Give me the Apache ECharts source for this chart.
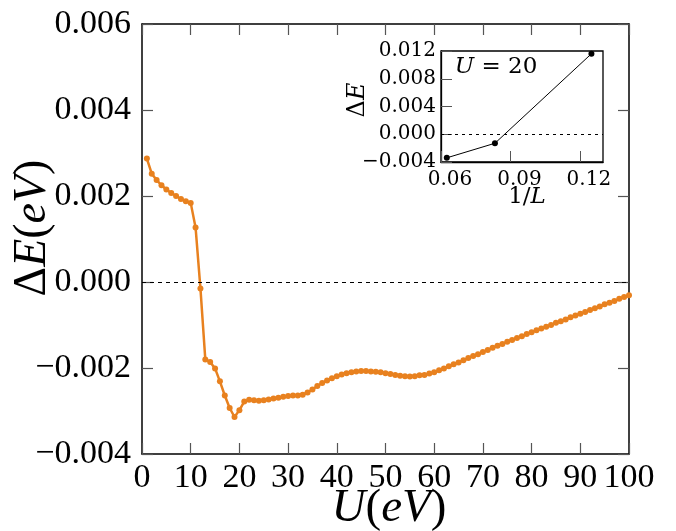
<!DOCTYPE html>
<html><head><meta charset="utf-8">
<script src="https://cdn.jsdelivr.net/npm/echarts@6/dist/echarts.min.js"></script>
<style>html,body{margin:0;padding:0;background:#fff}#c{width:676px;height:531px}</style>
</head><body><div id="c"></div>
<script>
// Main panel: U (eV) vs Delta E (eV)
const U = [1,2,3,4,5,6,7,8,9,10,11,12,13,14,15,16,17,18,19,20,
  21,22,23,24,25,26,27,28,29,30,31,32,33,34,35,36,37,38,39,40,
  41,42,43,44,45,46,47,48,49,50,51,52,53,54,55,56,57,58,59,60,
  61,62,63,64,65,66,67,68,69,70,71,72,73,74,75,76,77,78,79,80,
  81,82,83,84,85,86,87,88,89,90,91,92,93,94,95,96,97,98,99,100];
const deltaE = [
  0.00287,0.00252,0.00237,0.00225,0.00215,0.00207,0.00200,0.00193,0.00188,0.00184,
  0.00127,-0.00015,-0.00180,-0.00186,-0.00201,-0.00231,-0.00264,-0.00293,-0.00314,-0.00298,
  -0.00278,-0.00274,-0.00275,-0.00276,-0.00275,-0.00273,-0.00271,-0.00269,-0.00267,-0.00265,
  -0.00264,-0.00264,-0.00262,-0.00257,-0.00250,-0.00242,-0.00235,-0.00229,-0.00224,-0.00219,
  -0.00215,-0.00212,-0.00210,-0.00208,-0.00207,-0.00207,-0.00208,-0.00209,-0.00210,-0.00212,
  -0.00214,-0.00216,-0.00218,-0.00219,-0.00220,-0.00219,-0.00217,-0.00216,-0.00213,-0.00210,
  -0.00205,-0.00201,-0.00196,-0.00191,-0.00187,-0.00182,-0.00177,-0.00172,-0.00168,-0.00163,
  -0.00158,-0.00153,-0.00148,-0.00144,-0.00139,-0.00135,-0.00130,-0.00126,-0.00121,-0.00117,
  -0.00112,-0.00108,-0.00104,-0.00100,-0.00095,-0.00091,-0.00087,-0.00082,-0.00078,-0.00074,
  -0.00070,-0.00065,-0.00061,-0.00057,-0.00052,-0.00048,-0.00044,-0.00039,-0.00035,-0.00031];
// Inset: U = 20, 1/L vs Delta E
const invL = [0.0625, 0.0833, 0.125];
const insetDeltaE = [-0.0034, -0.0013, 0.0116];

const mainXTicks = {min: 0, max: 100, interval: 10};
const mainYTicks = {min: -0.004, max: 0.006, interval: 0.002};
const insetXTicks = {min: 0.06, max: 0.13, interval: 0.03};
const insetYTicks = {min: -0.004, max: 0.012, interval: 0.004};

const ORANGE = '#e8811f';
function fmt3(v){ if (Math.abs(v) < 1e-12) v = 0; const s = Math.abs(v).toFixed(3); return v < 0 ? '\u2212' + s : s; }

const chart = echarts.init(document.getElementById('c'), null, {renderer: 'canvas'});
const frameLine = {show: true, onZero: false, lineStyle: {color: '#000', width: 1.5}};
const tickIn = {show: true, inside: true, length: 11, lineStyle: {color: '#555', width: 1.2}};
const serif = 'Liberation Serif';
const smallSerif = 'DejaVu Serif';

chart.setOption({
  animation: false,
  backgroundColor: '#fff',
  grid: [
    {left: 142, top: 24, width: 487, height: 430, show: false},
    {left: 441, top: 51, width: 162, height: 111, show: true, backgroundColor: '#fff', borderColor: '#000', borderWidth: 1.3, z: 3}
  ],
  xAxis: [
    {gridIndex: 0, type: 'value', position: 'bottom', ...mainXTicks,
     axisLine: frameLine, axisTick: tickIn, splitLine: {show: false},
     axisLabel: {fontFamily: serif, fontSize: 34, color: '#000', margin: 7}},
    {gridIndex: 0, type: 'value', position: 'top', ...mainXTicks,
     axisLine: frameLine, axisTick: tickIn, splitLine: {show: false}, axisLabel: {show: false}},
    {gridIndex: 1, type: 'value', position: 'bottom', ...insetXTicks, z: 4,
     axisLine: {show: true, onZero: false, lineStyle: {color: '#000', width: 1.3}},
     axisTick: {show: true, inside: true, length: 11, lineStyle: {color: '#555', width: 1}},
     splitLine: {show: false},
     axisLabel: {fontFamily: smallSerif, fontSize: 20, color: '#000', margin: 8, showMaxLabel: false,
       padding: [0, 0, 0, 18], formatter: v => v.toFixed(2)}}
  ],
  yAxis: [
    {gridIndex: 0, type: 'value', position: 'left', ...mainYTicks,
     axisLine: frameLine, axisTick: tickIn, splitLine: {show: false},
     axisLabel: {fontFamily: serif, fontSize: 34, color: '#000', margin: 11, formatter: fmt3}},
    {gridIndex: 0, type: 'value', position: 'right', ...mainYTicks,
     axisLine: frameLine, axisTick: tickIn, splitLine: {show: false}, axisLabel: {show: false}},
    {gridIndex: 1, type: 'value', position: 'left', ...insetYTicks, z: 4,
     axisLine: {show: true, onZero: false, lineStyle: {color: '#000', width: 1.3}},
     axisTick: {show: true, inside: true, length: 11, lineStyle: {color: '#555', width: 1}},
     splitLine: {show: false},
     axisLabel: {fontFamily: smallSerif, fontSize: 20, color: '#000', margin: 5, formatter: fmt3}}
  ],
  series: [
    {type: 'line', xAxisIndex: 0, yAxisIndex: 0,
     data: U.map((u, i) => [u, deltaE[i]]),
     symbol: 'circle', symbolSize: 6, showSymbol: true,
     lineStyle: {color: ORANGE, width: 2.5}, itemStyle: {color: ORANGE},
     markLine: {silent: true, symbol: 'none', label: {show: false},
       lineStyle: {type: [4, 4], color: '#000', width: 1}, data: [{yAxis: 0}]}},
    {type: 'line', xAxisIndex: 2, yAxisIndex: 2, z: 5,
     data: invL.map((x, i) => [x, insetDeltaE[i]]),
     symbol: 'circle', symbolSize: 6, showSymbol: true,
     lineStyle: {color: '#000', width: 1}, itemStyle: {color: '#000'},
     markLine: {silent: true, symbol: 'none', label: {show: false},
       lineStyle: {type: [3, 4], color: '#000', width: 1}, data: [{yAxis: 0}]}}
  ],
  graphic: [
    {type: 'text', x: 33, y: 228, rotation: Math.PI / 2, z: 100,
     style: {text: '{a|\u0394}{i|E}{a|(}{i|eV}{a|)}', align: 'center', verticalAlign: 'middle',
       rich: {a: {fontFamily: serif, fontSize: 46, fill: '#000'}, i: {fontFamily: serif, fontSize: 46, fontStyle: 'italic', fill: '#000'}}}},
    {type: 'text', x: 389, y: 509, z: 100,
     style: {text: '{i|U}{a|(}{i|eV}{a|)}', align: 'center', verticalAlign: 'middle',
       rich: {a: {fontFamily: serif, fontSize: 47, fill: '#000'}, i: {fontFamily: serif, fontSize: 47, fontStyle: 'italic', fill: '#000'}}}},
    {type: 'text', x: 358, y: 100, rotation: Math.PI / 2, z: 100,
     style: {text: '{a|\u0394}{i|E}', align: 'center', verticalAlign: 'middle',
       rich: {a: {fontFamily: smallSerif, fontSize: 24, fill: '#000'}, i: {fontFamily: smallSerif, fontSize: 24, fontStyle: 'italic', fill: '#000'}}}},
    {type: 'text', x: 527, y: 197, z: 100,
     style: {text: '{a|1/}{i|L}', align: 'center', verticalAlign: 'middle',
       rich: {a: {fontFamily: smallSerif, fontSize: 23, fill: '#000'}, i: {fontFamily: smallSerif, fontSize: 23, fontStyle: 'italic', fill: '#000'}}}},
    {type: 'text', x: 496, y: 67, z: 100,
     style: {text: '{i|U}{a| = 20}', align: 'center', verticalAlign: 'middle',
       rich: {a: {fontFamily: smallSerif, fontSize: 23, fill: '#000'}, i: {fontFamily: smallSerif, fontSize: 23, fontStyle: 'italic', fill: '#000'}}}}
  ]
});
</script>
</body></html>
